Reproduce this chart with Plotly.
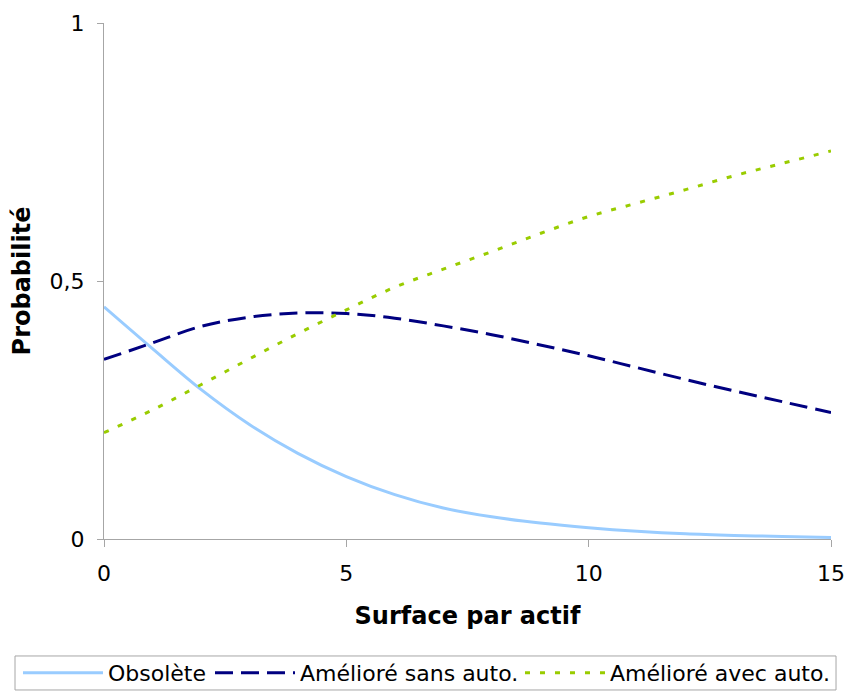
import plotly.graph_objects as go

surface = [0, 1, 2, 3, 4, 5, 6, 7, 8, 9, 10, 11, 12, 13, 14, 15]
obsolete = [0.450, 0.369, 0.290, 0.222, 0.166, 0.121, 0.086, 0.060, 0.043, 0.031,
            0.022, 0.015, 0.010, 0.007, 0.005, 0.003]
sans_auto = [0.348, 0.380, 0.412, 0.430, 0.438, 0.437, 0.428, 0.413, 0.396, 0.376,
             0.355, 0.332, 0.309, 0.287, 0.266, 0.245]
avec_auto = [0.206, 0.250, 0.299, 0.349, 0.398, 0.444, 0.488, 0.523, 0.557, 0.592,
             0.625, 0.651, 0.677, 0.704, 0.728, 0.752]

x_ticks = [0, 5, 10, 15]
y_ticks = [0, 0.5, 1]

FONT = "DejaVu Sans"

fig = go.Figure()
fig.add_trace(go.Scatter(x=surface, y=obsolete, mode="lines", name="Obsolète", legend="legend",
                         line=dict(color="#99CCFF", width=3, shape="spline")))
fig.add_trace(go.Scatter(x=surface, y=sans_auto, mode="lines", name="Amélioré sans auto.",
                         legend="legend2",
                         line=dict(color="#000080", width=3, dash="18px,8px", shape="spline")))
fig.add_trace(go.Scatter(x=surface, y=avec_auto, mode="lines", name="Amélioré avec auto.",
                         legend="legend3",
                         line=dict(color="#99CC00", width=3, dash="5px,10px", shape="spline")))

LEG_Y = -0.2597
leg_common = dict(orientation="h", y=LEG_Y, yanchor="middle", xanchor="left",
                  bgcolor="rgba(0,0,0,0)", borderwidth=0,
                  font=dict(size=22, family=FONT), itemwidth=80)

fig.update_layout(
    width=847, height=693,
    margin=dict(l=104, r=16, t=23, b=154, autoexpand=False),
    paper_bgcolor="white", plot_bgcolor="white",
    separators=", ",
    font=dict(family=FONT, size=22, color="black"),
    xaxis=dict(range=[0, 15], tickvals=x_ticks, showgrid=False, zeroline=False,
               showline=True, linecolor="#A6A6A6", linewidth=1,
               ticks="outside", ticklen=7, tickcolor="#A6A6A6",
               ticklabelstandoff=8, automargin=False,
               title=dict(text="<b>Surface par actif</b>", font=dict(size=24), standoff=21)),
    yaxis=dict(range=[0, 1], tickvals=y_ticks, showgrid=False, zeroline=False,
               showline=True, linecolor="#A6A6A6", linewidth=1,
               ticks="outside", ticklen=6, tickcolor="#A6A6A6",
               ticklabelstandoff=8, automargin=False,
               title=dict(text="<b>Probabilité</b>", font=dict(size=24), standoff=12)),
    showlegend=True,
    legend=dict(x=-0.1183, **leg_common),
    legend2=dict(x=0.1458, **leg_common),
    legend3=dict(x=0.5722, **leg_common),
    shapes=[dict(type="rect", xref="paper", yref="paper",
                 x0=-0.1224, x1=1.0069, y0=-0.2926, y1=-0.2267,
                 line=dict(color="#A6A6A6", width=1), fillcolor="rgba(0,0,0,0)",
                 layer="below")],
)

# remove the browser's default 8px body margin so the figure fills the window exactly
fig.write_html("out.html",
               config={"displayModeBar": False},
               post_script="document.body.style.margin='0px';"
                           "document.body.style.overflow='hidden';")
